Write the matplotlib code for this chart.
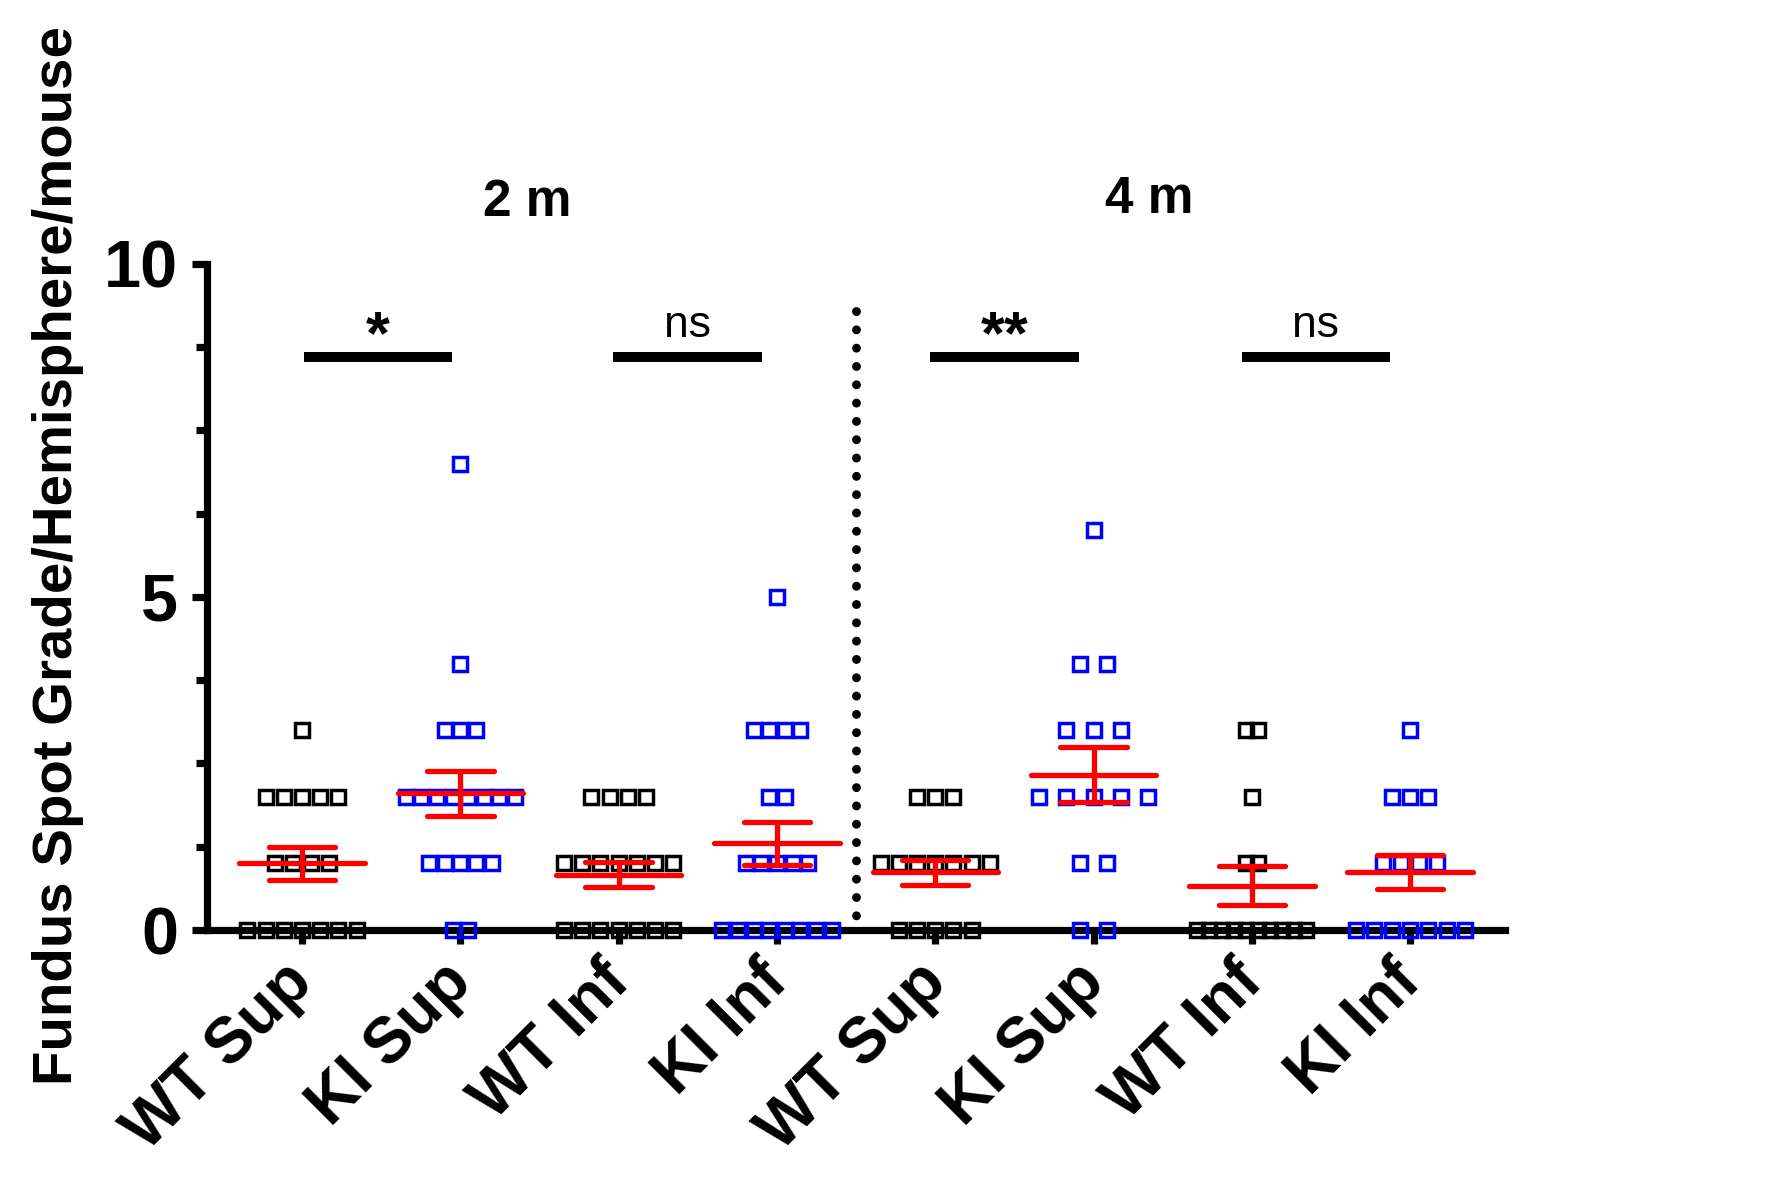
import matplotlib
matplotlib.use("Agg")
import matplotlib.pyplot as plt
from matplotlib.transforms import ScaledTranslation
import numpy as np

plt.rcParams['font.family'] = ['Liberation Sans', 'DejaVu Sans']

# grade per hemisphere per mouse
wt_sup_2m = [3, 2, 2, 2, 2, 2, 1, 1, 1, 1, 0, 0, 0, 0, 0, 0, 0]
ki_sup_2m = [7, 4, 3, 3, 3, 2, 2, 2, 2, 2, 2, 2, 2, 1, 1, 1, 1, 1, 0, 0]
wt_inf_2m = [2, 2, 2, 2, 1, 1, 1, 1, 1, 1, 1, 0, 0, 0, 0, 0, 0, 0]
ki_inf_2m = [5, 3, 3, 3, 3, 2, 2, 1, 1, 1, 1, 1, 0, 0, 0, 0, 0, 0, 0, 0]
wt_sup_4m = [2, 2, 2, 1, 1, 1, 1, 1, 1, 1, 0, 0, 0, 0, 0]
ki_sup_4m = [6, 4, 4, 3, 3, 3, 2, 2, 2, 2, 2, 1, 1, 0, 0]
wt_inf_4m = [3, 3, 2, 1, 1, 0, 0, 0, 0, 0, 0, 0, 0, 0, 0]
ki_inf_4m = [3, 2, 2, 2, 1, 1, 1, 1, 0, 0, 0, 0, 0, 0, 0]

groups = [wt_sup_2m, ki_sup_2m, wt_inf_2m, ki_inf_2m,
          wt_sup_4m, ki_sup_4m, wt_inf_4m, ki_inf_4m]
labels = ["WT Sup", "KI Sup", "WT Inf", "KI Inf",
          "WT Sup", "KI Sup", "WT Inf", "KI Inf"]
colors = ["black", "#0000ff"] * 4

comparisons = [(0, 1, "*"), (2, 3, "ns"), (4, 5, "**"), (6, 7, "ns")]
timepoints = ["2 m", "4 m"]

fig = plt.figure(figsize=(8.94, 5.98), dpi=200)
ax = fig.add_axes([0.1158, 0.2224, 0.7260, 0.5569])

span = 0.69
for i, vals in enumerate(groups):
    vals = np.array(vals, dtype=float)
    levels, counts = np.unique(vals, return_counts=True)
    pitch = span / (counts.max() - 1) if counts.max() > 1 else 0
    for lv, c in zip(levels, counts):
        xs = i + (np.arange(c) - (c - 1) / 2) * pitch
        ax.plot(xs, np.full(c, lv), ls="none", marker="s", ms=4.7,
                mfc="none", mec=colors[i], mew=1.25, clip_on=False, zorder=4)
    m = vals.mean()
    sem = vals.std(ddof=1) / np.sqrt(len(vals))
    ax.hlines(m, i - 0.396, i + 0.396, color="red", lw=1.9, zorder=5,
              capstyle="round")
    ax.hlines([m - sem, m + sem], i - 0.21, i + 0.21, color="red", lw=1.9,
              zorder=5, capstyle="round")
    ax.vlines(i, m - sem, m + sem, color="red", lw=1.9, zorder=5)

# significance bars, drawn a little left of the ticks as in the figure
shift = [0.01, -0.035, -0.03, -0.065]
for (a, b, txt), s in zip(comparisons, shift):
    x0, x1 = a + s, a + s + 0.94
    ax.plot([x0, x1], [8.61, 8.61], color="black", lw=3.6,
            solid_capstyle="butt", clip_on=False)
    if txt == "ns":
        ax.text((x0 + x1) / 2, 8.9, txt, ha="center", va="baseline",
                fontsize=16)
    else:
        ax.text((x0 + x1) / 2, 8.66, txt, ha="center", va="baseline",
                fontsize=22, fontweight="bold")

# separator between time points
ax.plot([3.5, 3.5], [9.3, 0], color="black", lw=3.2,
        linestyle=(0, (0.01, 2.05)), dash_capstyle="round", clip_on=False)

ax.text(1.42, 10.93, timepoints[0], ha="center", va="center",
        fontsize=18.5, fontweight="bold", clip_on=False)
ax.text(5.35, 10.97, timepoints[1], ha="center", va="center",
        fontsize=18.5, fontweight="bold", clip_on=False)

ax.set_xlim(-0.6, 7.6)
ax.set_ylim(0, 10)
for side in ["top", "right"]:
    ax.spines[side].set_visible(False)
for side in ["left", "bottom"]:
    ax.spines[side].set_linewidth(2.6)

ax.set_xticks(range(len(labels)))
ax.set_xticklabels(labels, rotation=45, ha="right", rotation_mode="anchor",
                   fontsize=23, fontweight="bold")
ax.set_yticks([0, 5, 10])
ax.set_yticks(np.arange(0, 10.01, 1.25), minor=True)
ax.set_yticklabels(["0", "5", "10"], fontsize=24, fontweight="bold")
ax.tick_params(axis="x", length=5, width=2.6, pad=4)
ax.tick_params(axis="y", which="major", length=5.5, width=2.6, pad=5)
ax.tick_params(axis="y", which="minor", length=4, width=2.6)

# nudge the rotated labels left so they end at the tick
shift_lbl = ScaledTranslation(-0.1, 0.02, fig.dpi_scale_trans)
for lbl in ax.xaxis.get_majorticklabels():
    lbl.set_transform(lbl.get_transform() + shift_lbl)

fig.text(58 / 1788, 1 - 556 / 1196, "Fundus Spot Grade/Hemisphere/mouse",
         rotation=90, ha="center", va="center", fontsize=20.3,
         fontweight="bold")

plt.savefig("out.png", dpi=200)
